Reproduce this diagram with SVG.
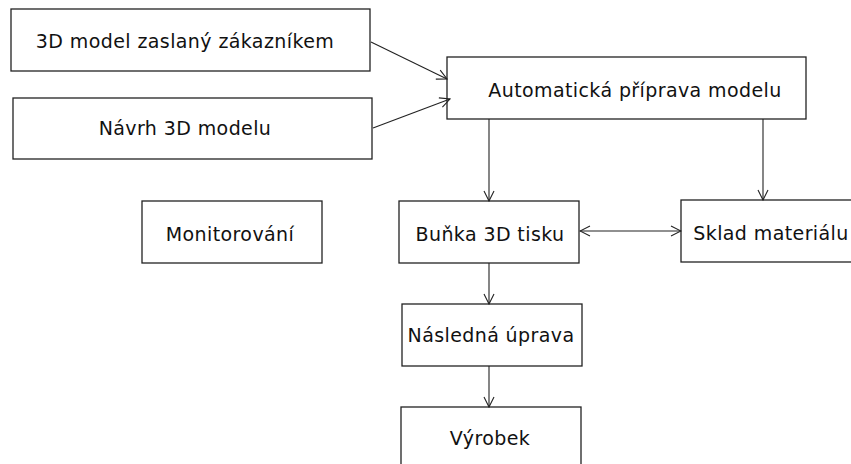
<svg xmlns="http://www.w3.org/2000/svg" width="851" height="464" viewBox="0 0 851 464">
<style>
.box{fill:#fff;stroke:#222;stroke-width:1.3}
.lbl{font-family:"DejaVu Sans",sans-serif;font-size:19px;letter-spacing:0.4px;fill:#111;text-anchor:middle}
.edge{stroke:#222;stroke-width:1.1;fill:none}
</style>
<defs>
<marker id="arr" viewBox="0 0 12 12" refX="11" refY="6" markerWidth="12" markerHeight="12" markerUnits="userSpaceOnUse" orient="auto-start-reverse">
<path d="M1,1 L11,6 L1,11" fill="none" stroke="#222" stroke-width="1.1"/>
</marker>
</defs>
<rect width="851" height="464" fill="#fff"/>
<g id="n1"><rect class="box" x="11" y="9" width="359" height="62"/><text class="lbl" x="185" y="48">3D model zaslaný zákazníkem</text></g>
<g id="n2"><rect class="box" x="13" y="98" width="359" height="61"/><text class="lbl" x="185" y="135">Návrh 3D modelu</text></g>
<g id="n3"><rect class="box" x="447" y="57" width="359" height="62"/><text class="lbl" x="635" y="97">Automatická příprava modelu</text></g>
<g id="n4"><rect class="box" x="142" y="201" width="180" height="62"/><text class="lbl" x="230" y="241">Monitorování</text></g>
<g id="n5"><rect class="box" x="399" y="201" width="180" height="62"/><text class="lbl" x="490" y="241">Buňka 3D tisku</text></g>
<g id="n6"><rect class="box" x="681" y="200" width="190" height="62"/><text class="lbl" x="771" y="240">Sklad materiálu</text></g>
<g id="n7"><rect class="box" x="402" y="304" width="180" height="62"/><text class="lbl" x="491" y="342">Následná úprava</text></g>
<g id="n8"><rect class="box" x="401" y="407" width="180" height="70"/><text class="lbl" x="490" y="445">Výrobek</text></g>
<g id="edges">
<line class="edge" x1="371" y1="42" x2="447" y2="79" marker-end="url(#arr)"/>
<line class="edge" x1="373" y1="128" x2="450" y2="99" marker-end="url(#arr)"/>
<line class="edge" x1="489" y1="119" x2="489" y2="201" marker-end="url(#arr)"/>
<line class="edge" x1="763" y1="119" x2="763" y2="200" marker-end="url(#arr)"/>
<line class="edge" x1="580" y1="231" x2="681" y2="231" marker-start="url(#arr)" marker-end="url(#arr)"/>
<line class="edge" x1="489" y1="263" x2="489" y2="304" marker-end="url(#arr)"/>
<line class="edge" x1="489" y1="366" x2="489" y2="407" marker-end="url(#arr)"/>
</g>
</svg>
